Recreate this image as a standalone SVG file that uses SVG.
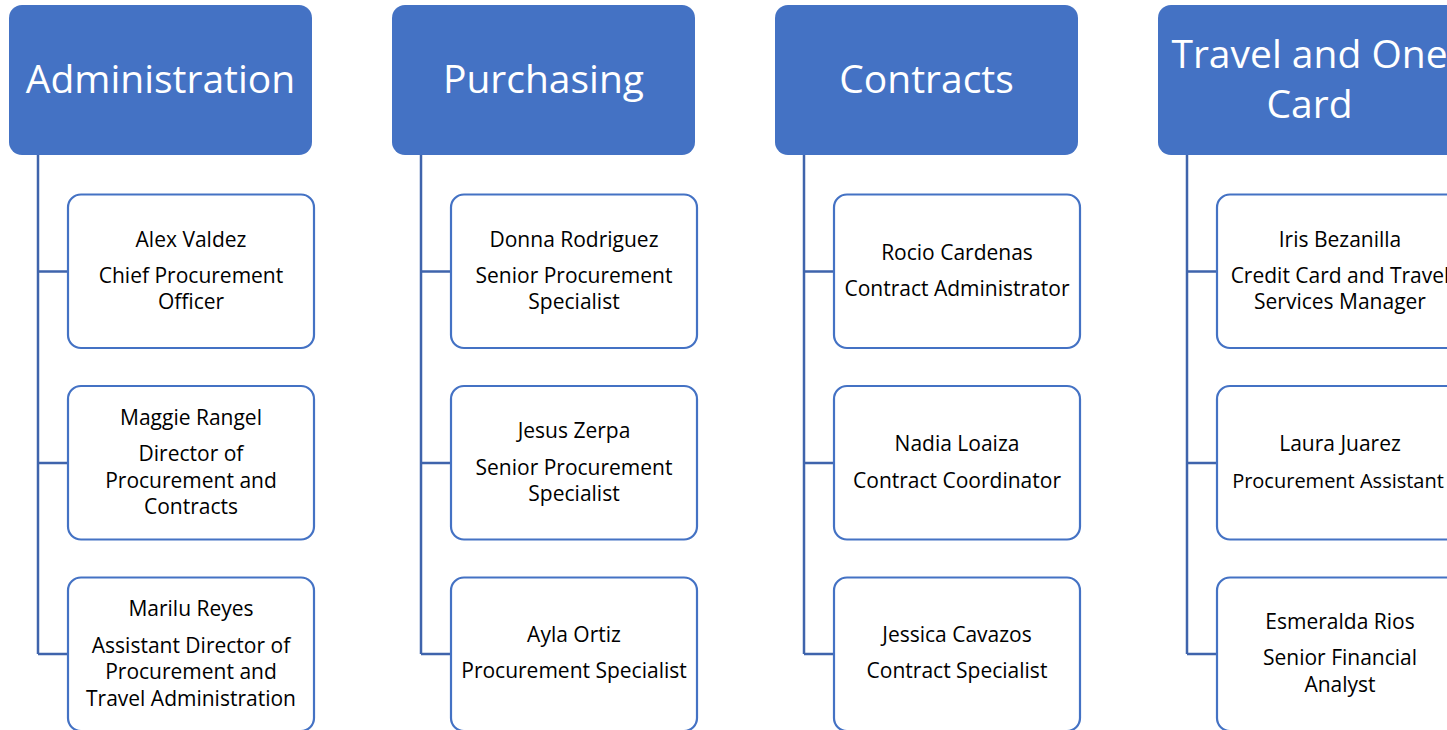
<svg xmlns="http://www.w3.org/2000/svg" width="1447" height="730" viewBox="0 0 1447 730">
<style>
.hdr{fill:#4472C4;}
.hdrt{fill:#fff;font-family:"Open Sans","Noto Sans",sans-serif;font-size:39px;text-anchor:middle;}
.box{fill:#fff;stroke:#4472C4;stroke-width:2.2;}
.bt{fill:#000;font-family:"Open Sans","Noto Sans",sans-serif;font-size:21px;text-anchor:middle;}
.con{fill:none;stroke:#3F64AC;stroke-width:2.5;}
</style>
<rect width="1447" height="730" fill="#fff"/>
<g id="connectors">
<path class="con" d="M38,155V654M38,271.5H68M38,463H68M38,654H68"/>
<path class="con" d="M421,155V654M421,271.5H451M421,463H451M421,654H451"/>
<path class="con" d="M804,155V654M804,271.5H834M804,463H834M804,654H834"/>
<path class="con" d="M1187,155V654M1187,271.5H1217M1187,463H1217M1187,654H1217"/>
</g>
<g id="h-admin"><rect class="hdr" x="9" y="5" width="303" height="150" rx="13"/><text class="hdrt" x="160.5" y="93">Administration</text></g>
<g id="h-purch"><rect class="hdr" x="392" y="5" width="303" height="150" rx="13"/><text class="hdrt" x="543.5" y="93">Purchasing</text></g>
<g id="h-contr"><rect class="hdr" x="775" y="5" width="303" height="150" rx="13"/><text class="hdrt" x="926.5" y="93">Contracts</text></g>
<g id="h-travel"><rect class="hdr" x="1158" y="5" width="303" height="150" rx="13"/><text class="hdrt" x="1309.5" y="68">Travel and One</text><text class="hdrt" x="1309.5" y="118">Card</text></g>

<g id="n-alex"><rect class="box" x="68" y="194.5" width="246" height="153.5" rx="13"/><text class="bt" x="191" y="246.5">Alex Valdez</text><text class="bt" x="191" y="282.5">Chief Procurement</text><text class="bt" x="191" y="309">Officer</text></g>
<g id="n-maggie"><rect class="box" x="68" y="386" width="246" height="153.5" rx="13"/><text class="bt" x="191" y="424.5">Maggie Rangel</text><text class="bt" x="191" y="461">Director of</text><text class="bt" x="191" y="487.5">Procurement and</text><text class="bt" x="191" y="514">Contracts</text></g>
<g id="n-marilu"><rect class="box" x="68" y="577.5" width="246" height="153.5" rx="13"/><text class="bt" x="191" y="616">Marilu Reyes</text><text class="bt" x="191" y="652.5">Assistant Director of</text><text class="bt" x="191" y="679">Procurement and</text><text class="bt" x="191" y="705.5">Travel Administration</text></g>

<g id="n-donna"><rect class="box" x="451" y="194.5" width="246" height="153.5" rx="13"/><text class="bt" x="574" y="246.5">Donna Rodriguez</text><text class="bt" x="574" y="282.5">Senior Procurement</text><text class="bt" x="574" y="309">Specialist</text></g>
<g id="n-jesus"><rect class="box" x="451" y="386" width="246" height="153.5" rx="13"/><text class="bt" x="574" y="438">Jesus Zerpa</text><text class="bt" x="574" y="474.5">Senior Procurement</text><text class="bt" x="574" y="501">Specialist</text></g>
<g id="n-ayla"><rect class="box" x="451" y="577.5" width="246" height="153.5" rx="13"/><text class="bt" x="574" y="641.5">Ayla Ortiz</text><text class="bt" x="574" y="678">Procurement Specialist</text></g>

<g id="n-rocio"><rect class="box" x="834" y="194.5" width="246" height="153.5" rx="13"/><text class="bt" x="957" y="259.5">Rocio Cardenas</text><text class="bt" x="957" y="296">Contract Administrator</text></g>
<g id="n-nadia"><rect class="box" x="834" y="386" width="246" height="153.5" rx="13"/><text class="bt" x="957" y="451">Nadia Loaiza</text><text class="bt" x="957" y="487.5">Contract Coordinator</text></g>
<g id="n-jessica"><rect class="box" x="834" y="577.5" width="246" height="153.5" rx="13"/><text class="bt" x="957" y="641.5">Jessica Cavazos</text><text class="bt" x="957" y="678">Contract Specialist</text></g>

<g id="n-iris"><rect class="box" x="1217" y="194.5" width="246" height="153.5" rx="13"/><text class="bt" x="1340" y="246.5">Iris Bezanilla</text><text class="bt" x="1340" y="282.5">Credit Card and Travel</text><text class="bt" x="1340" y="309">Services Manager</text></g>
<g id="n-laura"><rect class="box" x="1217" y="386" width="246" height="153.5" rx="13"/><text class="bt" x="1340" y="451">Laura Juarez</text><text class="bt" x="1338" y="487.5" style="font-size:20px">Procurement Assistant</text></g>
<g id="n-esmeralda"><rect class="box" x="1217" y="577.5" width="246" height="153.5" rx="13"/><text class="bt" x="1340" y="628.5">Esmeralda Rios</text><text class="bt" x="1340" y="665">Senior Financial</text><text class="bt" x="1340" y="691.5">Analyst</text></g>
</svg>
